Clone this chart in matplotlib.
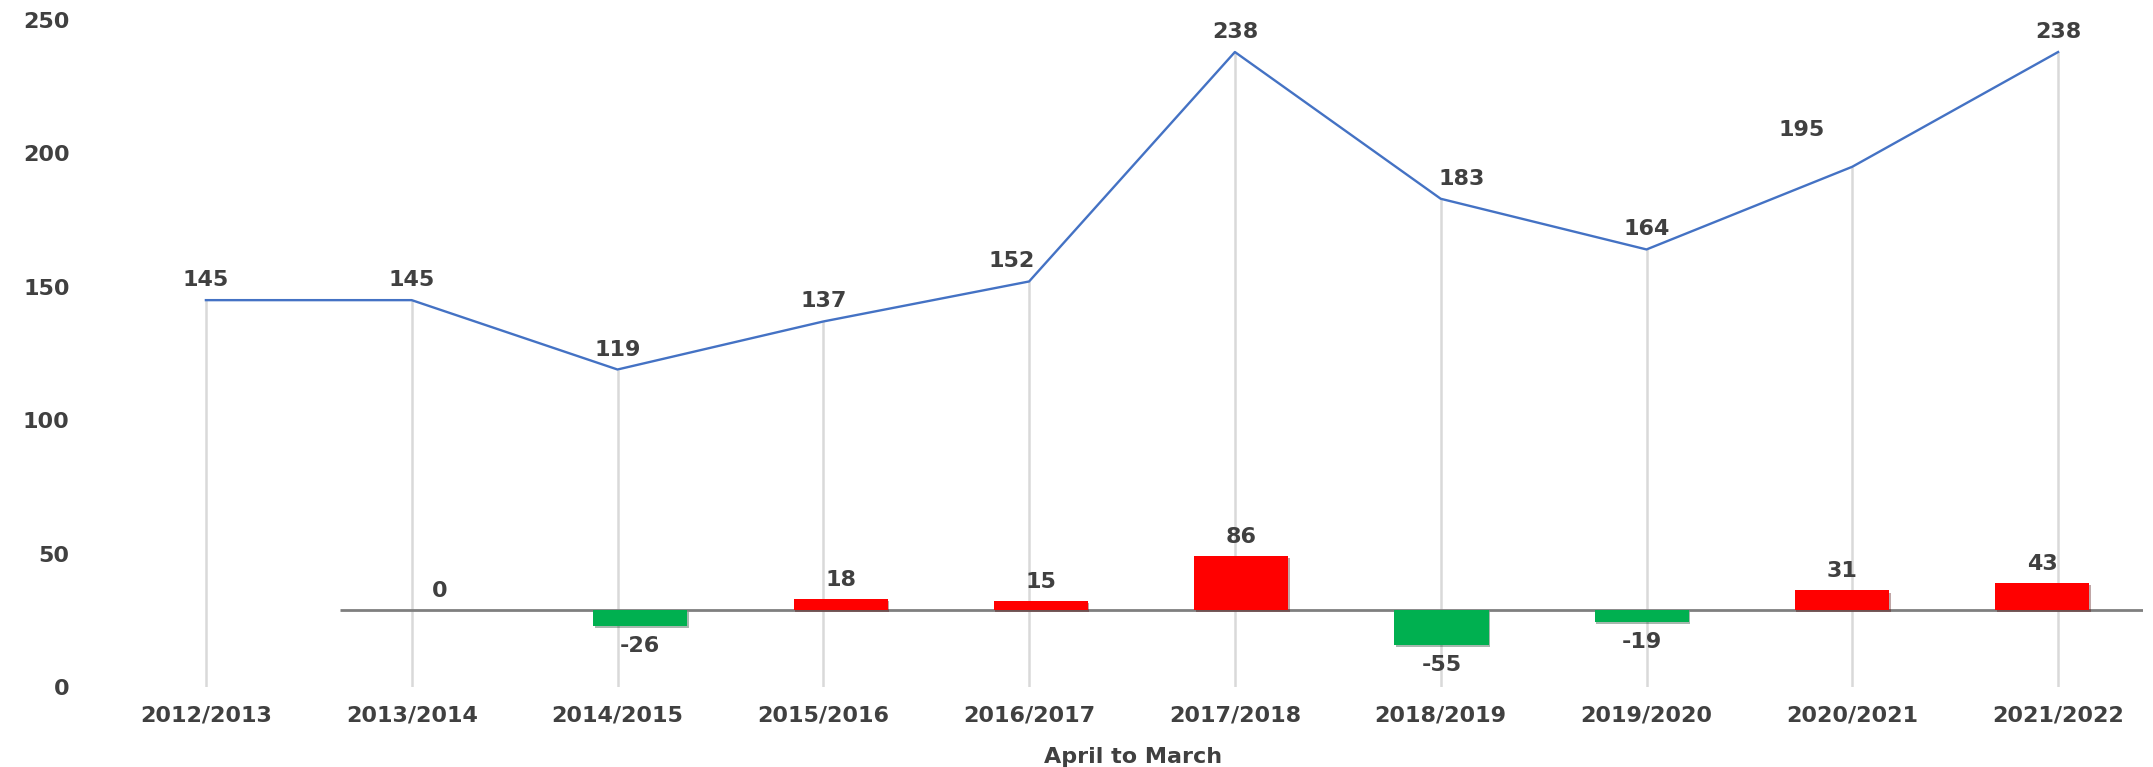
import matplotlib
matplotlib.use("Agg")
import matplotlib.pyplot as plt
import matplotlib.patheffects as pe

# data
years = ["2012/2013", "2013/2014", "2014/2015", "2015/2016", "2016/2017",
         "2017/2018", "2018/2019", "2019/2020", "2020/2021", "2021/2022"]
totals = [145, 145, 119, 137, 152, 238, 183, 164, 195, 238]
changes = [0, -26, 18, 15, 86, -55, -19, 31, 43]   # 2013/2014 .. 2021/2022
y_ticks = [0, 50, 100, 150, 200, 250]
x_title = "April to March"

TXT = "#404040"
FS = 16
plt.rcParams['font.family'] = ['DejaVu Sans']
plt.rcParams['font.weight'] = 'bold'

DPI = 100
fig = plt.figure(figsize=(21.53, 7.67), dpi=DPI)
W, H = 2153, 767

# axes rect in pixels (left, right, top, bottom)
left_px, right_px, top_px, bot_px = 103, 2143, 20, 687
rect = [left_px / W, 1 - bot_px / H, (right_px - left_px) / W, (bot_px - top_px) / H]

ax = fig.add_axes(rect)
ax2 = fig.add_axes(rect)
ax2.patch.set_alpha(0)

# ---- primary: line with drop lines
x = list(range(len(years)))
step1 = 205.8
ax.set_xlim(-0.5, -0.5 + (right_px - left_px) / step1)
ax.set_ylim(0, 250)
ax.vlines(x, 0, totals, color="#D9D9D9", lw=1.8, zorder=1)
ax.plot(x, totals, color="#4472C4", lw=1.7, zorder=3)

# label offsets in px (dx, dy)
line_off = {4: (-17, 20), 6: (21, 20), 8: (-51, 37)}
for i, v in enumerate(totals):
    dx, dy = line_off.get(i, (0, 20))
    ax.annotate(str(v), (i, v), xytext=(dx * 0.72, dy * 0.72), textcoords="offset points",
                ha="center", va="center", fontsize=FS, color=TXT, fontweight="bold")

ax.set_xticks(x)
ax.set_xticklabels(years)
ax.set_yticks(y_ticks)
ax.tick_params(axis="both", length=0, labelsize=FS, labelcolor=TXT)
ax.tick_params(axis="y", pad=24)
ax.tick_params(axis="x", pad=13)
for s in ax.spines.values():
    s.set_visible(False)
ax.set_xlabel(x_title, fontsize=FS, color=TXT, fontweight="bold")
ax.xaxis.set_label_coords((1133 - left_px) / (right_px - left_px), (bot_px - 757) / (bot_px - top_px))
ax.xaxis.label.set_va("center")

# ---- secondary: change bars
step2 = 200.3
j0 = (left_px - 440) / step2
ax2.set_xlim(j0, j0 + (right_px - left_px) / step2)
sec_scale = 0.63  # px per unit
zero_px = 610
ax2.set_ylim(-(bot_px - zero_px) / sec_scale, (zero_px - top_px) / sec_scale)
ax2.axis("off")

bx = list(range(len(changes)))
ax2.hlines(0, -0.5, 8.5, color="#7F7F7F", lw=2.0, zorder=1)
colors = ["#FF0000" if c > 0 else "#00B050" for c in changes]
bars = ax2.bar(bx, changes, width=0.47, color=colors, zorder=2)
for b in bars:
    b.set_path_effects([pe.SimplePatchShadow(offset=(1, -1.5), alpha=0.35), pe.Normal()])
for j, c in enumerate(changes):
    dy = -20 if c < 0 else 19
    ax2.annotate(str(c), (j, c), xytext=(0, dy * 0.72), textcoords="offset points",
                 ha="center", va="center", fontsize=FS, color=TXT, fontweight="bold")

fig.savefig("out.png", dpi=DPI)
